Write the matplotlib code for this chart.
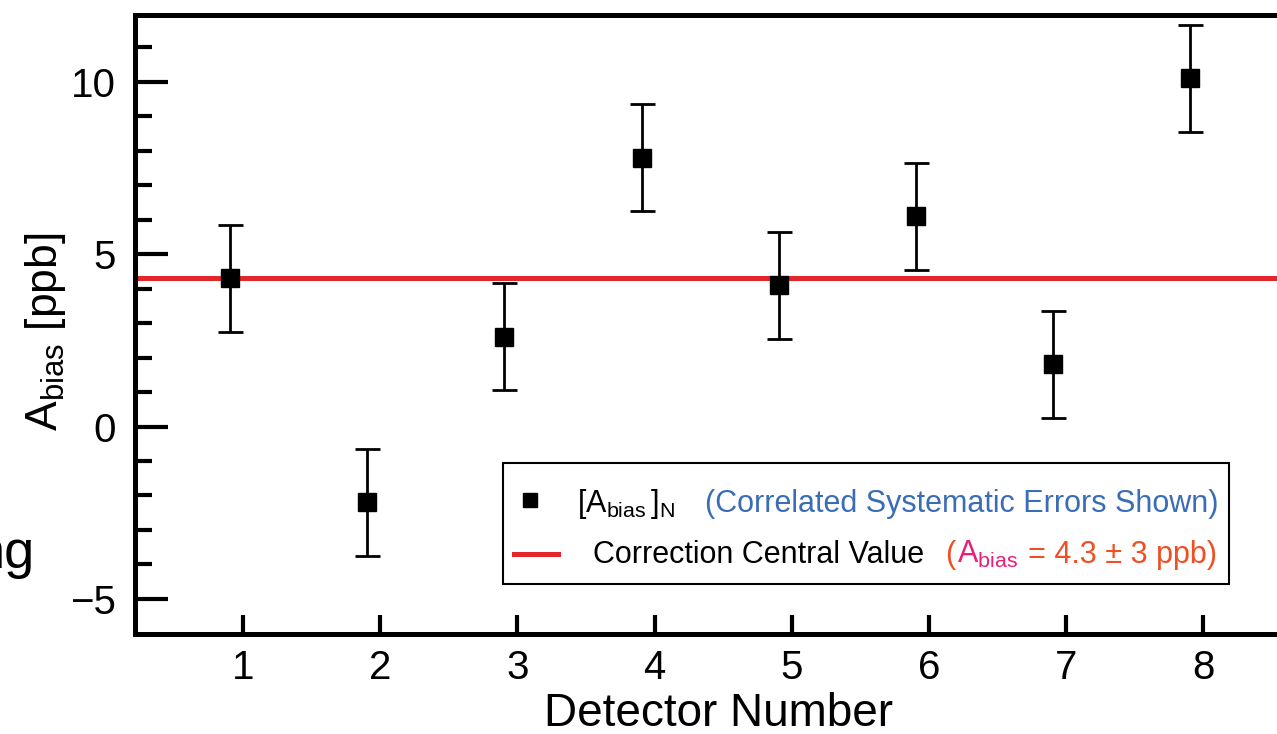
import numpy as np
import matplotlib
matplotlib.use("Agg")
from matplotlib import pyplot as plt
from matplotlib.patches import Rectangle

plt.rcParams['font.family'] = ['Liberation Sans', 'DejaVu Sans']
plt.rcParams['mathtext.fontset'] = 'custom'
plt.rcParams['mathtext.rm'] = 'Liberation Sans'
plt.rcParams['mathtext.it'] = 'Liberation Sans:italic'

# data
detectors = [1, 2, 3, 4, 5, 6, 7, 8]
a_bias = [4.3, -2.2, 2.6, 7.8, 4.1, 6.1, 1.8, 10.1]
a_err = [1.55, 1.55, 1.55, 1.55, 1.55, 1.55, 1.55, 1.55]
central = 4.3
x_shift = -0.095

W, H = 1277, 734
fig = plt.figure(figsize=(W / 100, H / 100), dpi=100)

# axes runs off the right edge of the picture (cropped figure)
L, R, B, T = 135, 1290, 634, 15
ax = fig.add_axes([L / W, 1 - B / H, (R - L) / W, (B - T) / H])

def fx(px):
    return (px - L) / (R - L)

def fy(py):
    return (B - py) / (B - T)

xpos = np.array(detectors) + x_shift
ax.axhline(central, color='#e3262b', lw=3.6, zorder=1)
ax.errorbar(xpos, a_bias, yerr=a_err, fmt='s', color='black', ms=13,
            elinewidth=2, capsize=9, capthick=2, zorder=3)

ax.set_xlim(0.213, 8.631)
ax.set_ylim(-6.02, 11.94)
ax.set_xticks(detectors)
ax.set_yticks([-5, 0, 5, 10])
ax.set_yticklabels(['\u22125', '0', '5', '10'])
ax.set_yticks(np.arange(-5, 12), minor=True)

for s in ['left', 'bottom', 'top']:
    ax.spines[s].set_linewidth(3.6)
ax.spines['right'].set_visible(False)

ax.tick_params(axis='x', which='major', direction='in', length=14, width=3,
               labelsize=29, pad=11)
ax.tick_params(axis='y', which='major', direction='in', length=24, width=3,
               labelsize=29, pad=14)
ax.tick_params(axis='y', which='minor', direction='in', length=12, width=3)

ax.set_xlabel('Detector Number', fontsize=33)
ax.xaxis.set_label_coords(fx(718), fy(692))
ax.xaxis.label.set_va('top')
ax.set_ylabel(r'$\mathrm{A}_{\mathrm{bias}}$ [ppb]', fontsize=32)
ax.yaxis.set_label_coords(fx(68), fy(332))

# hand-built legend with multi-coloured text
box = Rectangle((fx(503), fy(584)), fx(1229) - fx(503), fy(463) - fy(584),
                transform=ax.transAxes, fill=True, facecolor='white',
                edgecolor='black', lw=1.5, zorder=5)
ax.add_patch(box)
ax.plot([fx(530)], [fy(500)], 's', color='black', ms=10,
        transform=ax.transAxes, zorder=6, clip_on=False)
ax.plot([fx(514), fx(558)], [fy(554), fy(554)], color='#e3262b', lw=3.6,
        transform=ax.transAxes, zorder=6, clip_on=False)

lfs = 22
kw = dict(transform=ax.transAxes, va='baseline', ha='left', fontsize=lfs, zorder=6)
ax.text(fx(577), fy(512), r'$[\mathrm{A}_{\mathrm{bias}}\,]_{\mathrm{N}}$', color='black', **kw)
ax.text(fx(705), fy(512), '(Correlated Systematic Errors Shown)', color='#3a6db5', **kw)
ax.text(fx(593), fy(563), 'Correction Central Value', color='black', **kw)
ax.text(fx(945), fy(563), '(', color='#f04e23', **kw)
ax.text(fx(957), fy(563), r'$\mathrm{A}_{\mathrm{bias}}$', color='#e91e78', **kw)
ax.text(fx(1028), fy(563), '= 4.3 \u00b1 3 ppb)', color='#f04e23', **kw)

# fragment of a neighbouring panel label
fig.text(35 / W, 1 - 568 / H, 'ng', ha='right', va='baseline', fontsize=39)

fig.savefig('out.png', dpi=100)
